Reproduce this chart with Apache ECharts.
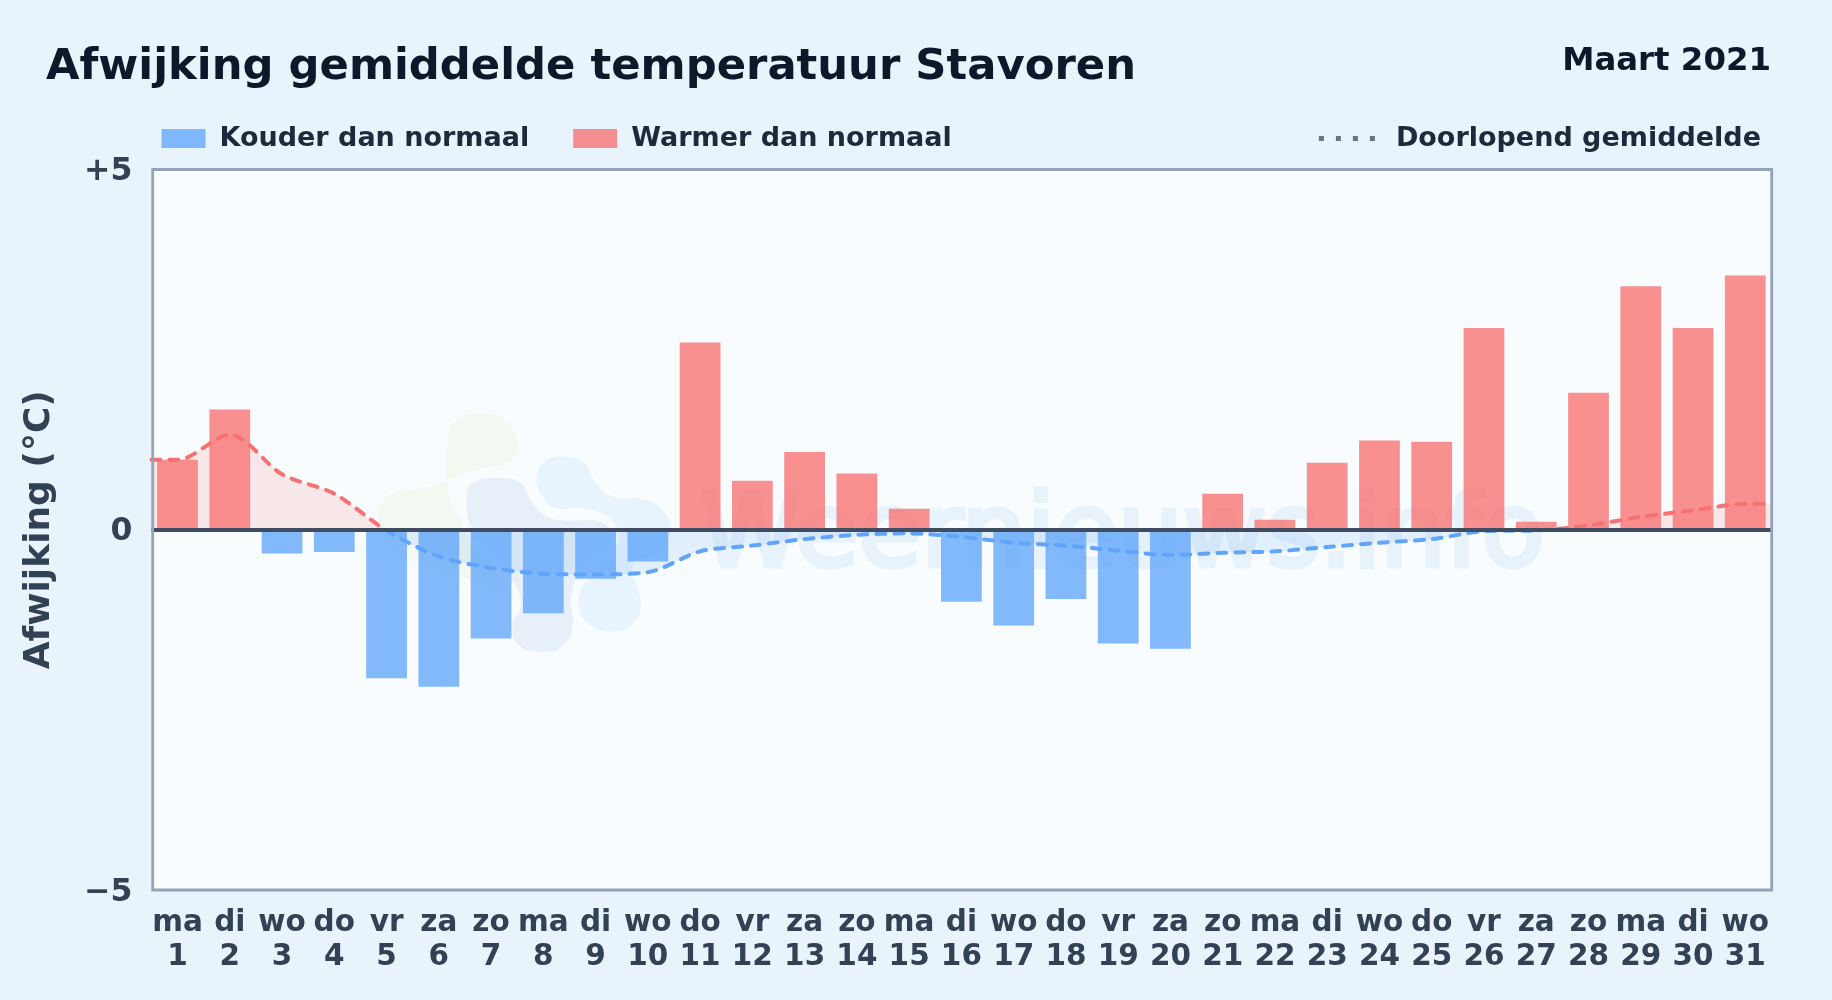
<!DOCTYPE html>
<html>
<head>
<meta charset="utf-8">
<title>Afwijking gemiddelde temperatuur Stavoren</title>
<script src="https://cdn.jsdelivr.net/npm/echarts@6/dist/echarts.min.js"></script>
<style>
html,body{margin:0;padding:0;background:#e8f3fc;}
#chart{width:1832px;height:1000px;}
</style>
</head>
<body>
<div id="chart"></div>
<script>
const titleText = 'Afwijking gemiddelde temperatuur Stavoren';
const periodText = 'Maart 2021';
const yAxisName = 'Afwijking (°C)';
const coldName = 'Kouder dan normaal';
const warmName = 'Warmer dan normaal';
const meanName = 'Doorlopend gemiddelde';
const weekdays = ['ma','di','wo','do','vr','za','zo','ma','di','wo','do','vr','za','zo','ma','di','wo','do','vr','za','zo','ma','di','wo','do','vr','za','zo','ma','di','wo'];
const days = [1,2,3,4,5,6,7,8,9,10,11,12,13,14,15,16,17,18,19,20,21,22,23,24,25,26,27,28,29,30,31];
const deviation = [0.97,1.67,-0.33,-0.31,-2.06,-2.18,-1.51,-1.16,-0.68,-0.44,2.6,0.68,1.08,0.78,0.29,-1.0,-1.33,-0.96,-1.58,-1.65,0.5,0.14,0.93,1.24,1.22,2.8,0.11,1.9,3.38,2.8,3.53];
const runningMean = [0.97,1.32,0.77,0.5,-0.01,-0.37,-0.53,-0.61,-0.62,-0.59,-0.3,-0.22,-0.13,-0.07,-0.05,-0.1,-0.18,-0.22,-0.29,-0.35,-0.32,-0.3,-0.24,-0.18,-0.13,-0.02,-0.01,0.06,0.18,0.27,0.36];
const yTicks = {'5':'+5','0':'0','-5':'\u22125'};

const RED = '#f87171', BLUE = '#60a5fa', INK = '#334155';
const FONT = '"DejaVu Sans", sans-serif';

const categories = days.map((d, i) => weekdays[i] + '\n' + d);
const coldBars = deviation.map(v => v < 0 ? v : null);
const warmBars = deviation.map(v => v >= 0 ? v : null);
const meanLine = [[0, runningMean[0]]]
  .concat(runningMean.map((v, i) => [i + 0.5, v]))
  .concat([[days.length, runningMean[runningMean.length - 1]]]);

function blob(points, fill, extra) {
  return Object.assign({
    type: 'polygon', silent: true, z: 1,
    x: 370, y: 400, scaleX: 1/3, scaleY: 1/3,
    shape: { points: points, smooth: 0.5 },
    style: { fill: fill }
  }, extra || {});
}

const chart = echarts.init(document.getElementById('chart'), null, { renderer: 'canvas' });
chart.setOption({
  animation: false,
  backgroundColor: '#e8f3fc',
  textStyle: { fontFamily: FONT },
  title: [
    { text: titleText, left: 46, top: 46, padding: 0,
      textStyle: { fontFamily: FONT, fontWeight: 'bold', fontSize: 43.3, color: '#0f172a' } },
    { text: periodText, right: 61, top: 46, padding: 0,
      textStyle: { fontFamily: FONT, fontWeight: 'bold', fontSize: 32.4, color: '#0f172a' } }
  ],
  legend: [
    { left: 161.5, top: 125, padding: 0, itemWidth: 44, itemHeight: 19, itemGap: 44, selectedMode: false, icon: 'rect',
      data: [coldName, warmName],
      textStyle: { fontFamily: FONT, fontWeight: 'bold', fontSize: 27, color: '#1e293b', padding: [0, 0, 0, 9] } },
    { right: 71, top: 125, padding: 0, itemWidth: 56, itemHeight: 5, selectedMode: false,
      data: [{ name: meanName,
        icon: 'path://M0 0h5v5H0zM17 0h5v5h-5zM34 0h5v5h-5zM51 0h5v5h-5z',
        itemStyle: { color: '#64748b', opacity: 1 } }],
      textStyle: { fontFamily: FONT, fontWeight: 'bold', fontSize: 27, color: '#1e293b', padding: [0, 0, 0, 16] } }
  ],
  grid: { left: 151.4, right: 60.6, top: 169.5, bottom: 110, show: true, backgroundColor: '#f8fcff',
          borderWidth: 0, containLabel: false },
  xAxis: [
    { type: 'category', data: categories, position: 'bottom', boundaryGap: true,
      axisLine: { show: false }, axisTick: { show: false }, splitLine: { show: false },
      axisLabel: { interval: 0, margin: 16, fontFamily: FONT, fontWeight: 'bold', fontSize: 29.5, lineHeight: 34.5, color: INK, hideOverlap: false } },
    { type: 'value', min: 0, max: days.length, show: false }
  ],
  yAxis: {
    type: 'value', min: -5, max: 5, interval: 5,
    name: yAxisName, nameLocation: 'middle', nameRotate: 90, nameGap: 94,
    nameTextStyle: { fontFamily: FONT, fontWeight: 'bold', fontSize: 36, color: INK },
    axisLine: { show: false }, axisTick: { show: false }, splitLine: { show: false },
    axisLabel: { margin: 19, fontFamily: FONT, fontWeight: 'bold', fontSize: 31.5, color: INK, verticalAlign: 'top', lineHeight: 5,
      formatter: v => yTicks[String(v)] }
  },
  visualMap: { show: false, type: 'piecewise', seriesIndex: 2, dimension: 1,
    pieces: [{ gt: -10, lte: 0, color: BLUE }, { gt: 0, lte: 10, color: RED }] },
  series: [
    { name: coldName, type: 'bar', data: coldBars, barWidth: '78%', barGap: '-100%',
      itemStyle: { color: BLUE, opacity: 0.78 } },
    { name: warmName, type: 'bar', data: warmBars, barWidth: '78%', barGap: '-100%',
      itemStyle: { color: RED, opacity: 0.78 },
      markLine: { silent: true, symbol: 'none', label: { show: false }, z: 6,
        lineStyle: { color: '#3f4c61', width: 4, type: 'solid', opacity: 1 },
        data: [{ yAxis: 0 }] } },
    { name: meanName, type: 'line', xAxisIndex: 1, data: meanLine, smooth: 0.3,
      symbol: 'none', z: 4,
      lineStyle: { width: 4, type: [9, 9], cap: 'round' },
      areaStyle: { opacity: 0.15 } }
  ],
  graphic: { elements: [
    blob([[235,100],[270,55],[340,40],[410,65],[440,120],[425,180],[340,205],[270,225],[200,255],[90,275],[40,300],[30,360],[60,430],[150,490],[300,540],[440,578],[470,540],[400,450],[300,380],[240,300]], '#f2f9f0'),
    blob([[500,230],[530,180],[590,170],[645,190],[675,245],[730,290],[830,300],[885,340],[900,400],[860,460],[790,495],[812,610],[790,670],[720,695],[650,665],[625,600],[680,500],[740,430],[720,360],[640,325],[560,325],[515,285]], '#e8f4fd'),
    blob([[278,290],[300,240],[380,222],[460,240],[490,290],[530,335],[600,350],[680,350],[730,385],[720,450],[650,510],[615,590],[620,680],[580,750],[510,767],[440,745],[415,680],[440,600],[380,500],[300,400]], '#e7f0f8',
      { style: { fill: '#e7f0f8', stroke: '#f8fcff', lineWidth: 24 } }),
    { type: 'text', silent: true, z: 1, x: 700, y: 590,
      style: { text: 'Weernieuws.info', fontFamily: FONT, fontSize: 102.4, fill: '#e8f2fa', stroke: '#e8f2fa', lineWidth: 5,
               align: 'left', verticalAlign: 'bottom' } },
    { type: 'rect', silent: true, z: 7, shape: { x: 152.7, y: 169.5, width: 1619, height: 720.5 },
      style: { fill: 'none', stroke: '#94a3b8', lineWidth: 2.8 } }
  ] }
});
</script>
</body>
</html>
